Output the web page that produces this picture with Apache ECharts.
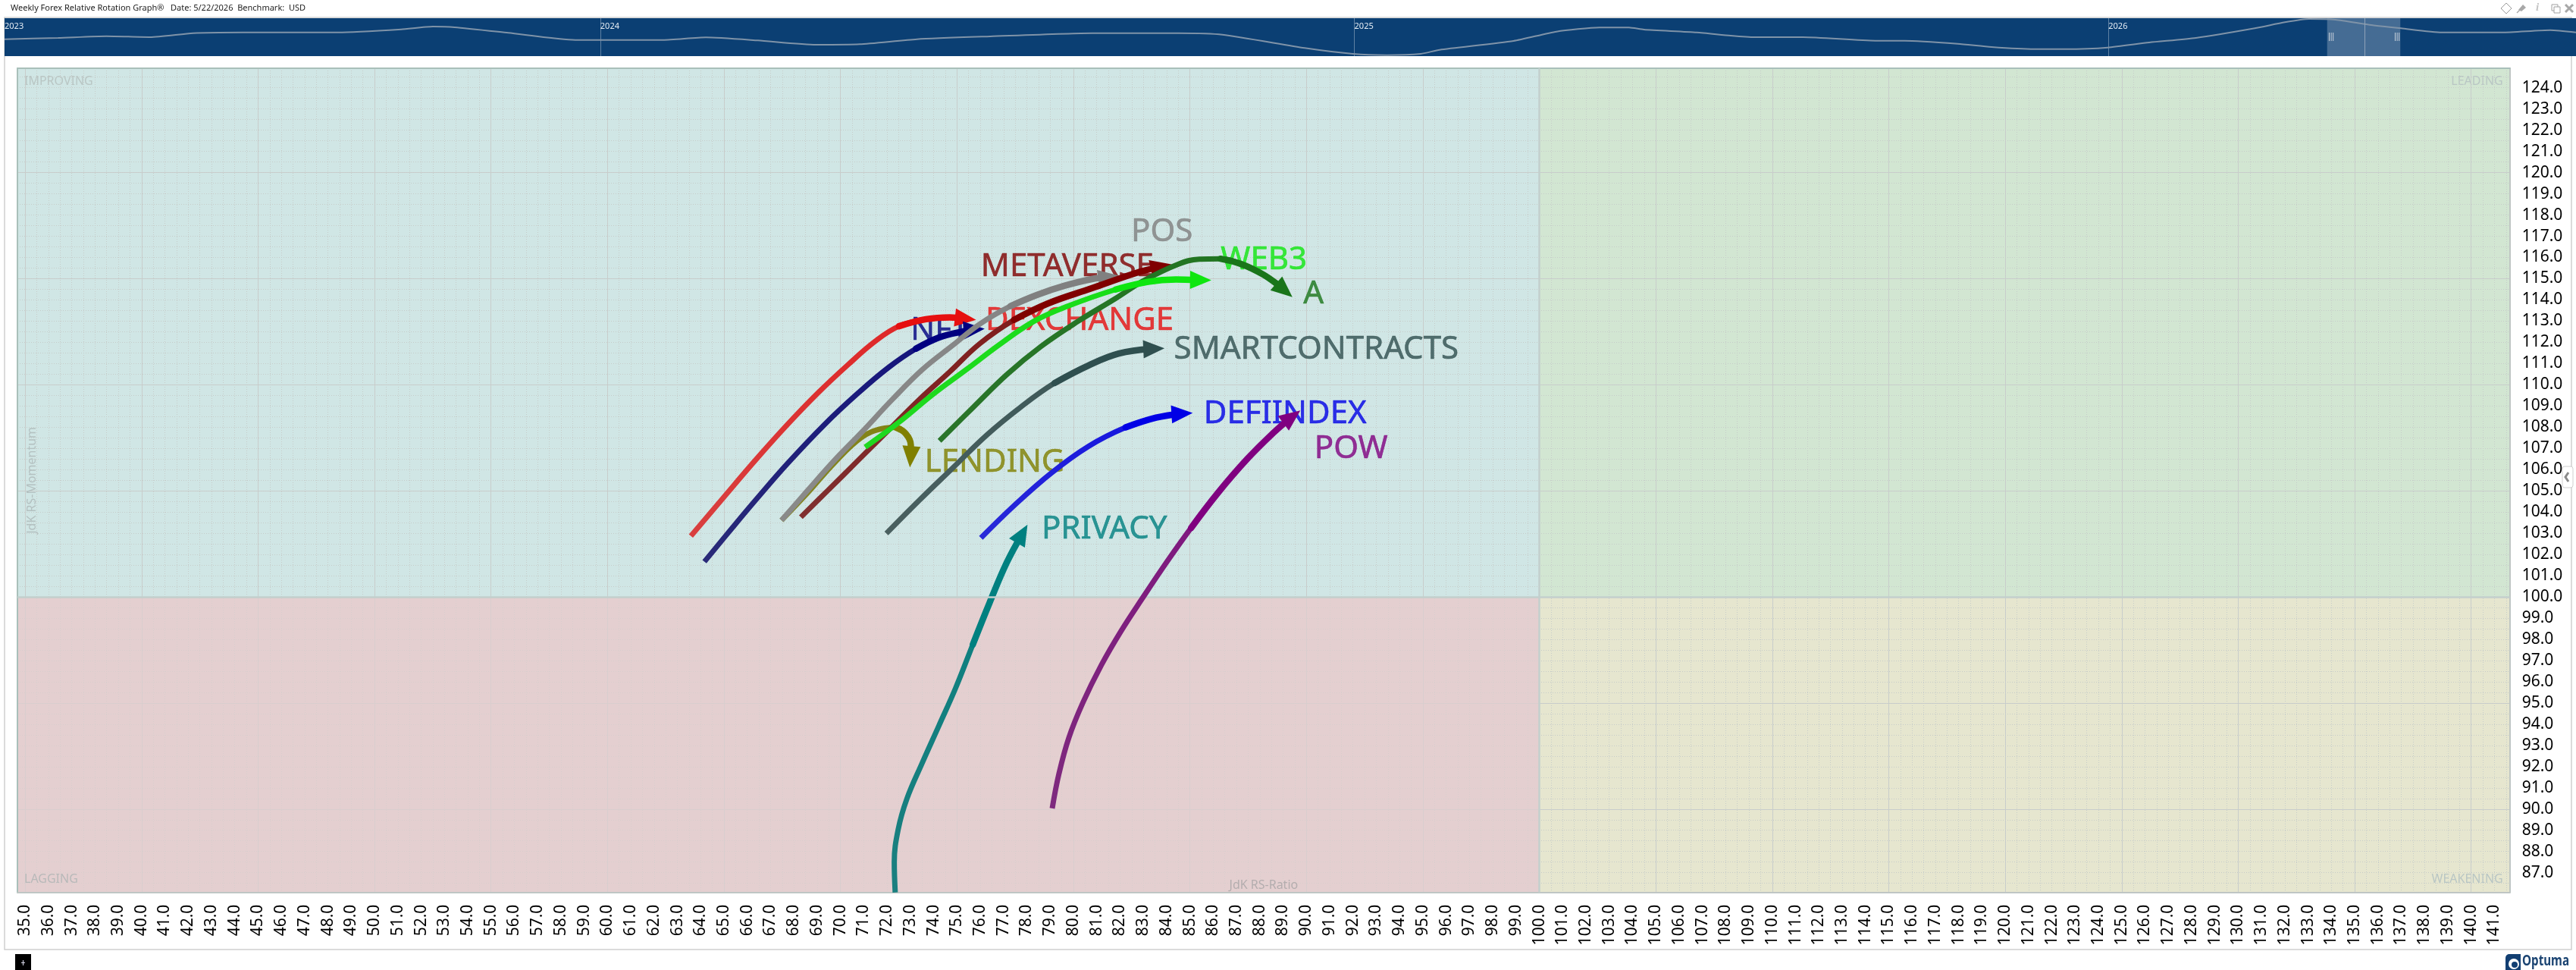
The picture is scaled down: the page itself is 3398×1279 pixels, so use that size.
<!DOCTYPE html>
<html><head><meta charset="utf-8">
<style>html,body{margin:0;padding:0;background:#fff}#c{width:3398px;height:1279px}</style>
<script src="https://cdn.jsdelivr.net/npm/echarts@6/dist/echarts.min.js"></script>
</head><body><div id="c"></div>
<script>
// ---- tick labels
const xTicks=[];for(let v=35;v<=141;v++)xTicks.push(v);
const yTicks=[];for(let v=87;v<=124;v++)yTicks.push(v);
const xMajor=xTicks.filter(v=>v%5===0), yMajor=yTicks.filter(v=>v%5===0);
const xMinor=[];for(let v=35;v<=141.5;v+=0.5)xMinor.push(v);
const yMinor=[];for(let v=86.5;v<=124.5;v+=0.5)yMinor.push(v);
const quadrants=['IMPROVING','LEADING','LAGGING','WEAKENING'];
// ---- tails [RS-Ratio, RS-Momentum], last point is the arrow tip
const DEXCHANGE=[[63.58,102.87],[64.96,104.66],[66.41,106.52],[67.72,108.12],[69.02,109.60],[70.33,110.95],[71.49,112.05],[72.51,112.76],[73.67,113.09],[74.69,113.18],[75.34,113.12],[75.82,113.06]];
const NFT=[[64.16,101.66],[65.39,103.30],[66.41,104.63],[67.72,106.28],[69.31,108.12],[70.77,109.62],[72.07,110.82],[73.24,111.70],[74.25,112.24],[75.27,112.52],[75.71,112.60],[76.19,112.64]];
const LENDING=[[67.47,103.61],[68.59,104.90],[69.75,106.33],[70.91,107.52],[71.78,107.93],[72.37,107.99],[72.80,107.70],[73.02,107.16],[73.02,106.68],[72.98,106.11]];
const POS=[[67.47,103.61],[68.59,105.02],[69.75,106.45],[70.91,107.76],[72.22,109.30],[73.53,110.73],[74.83,111.87],[76.00,112.88],[77.30,113.71],[78.47,114.25],[79.63,114.67],[80.83,114.99],[81.43,115.05],[81.97,115.14]];
const METAVERSE=[[68.30,103.76],[69.46,105.02],[70.77,106.45],[72.07,107.87],[73.38,109.30],[74.69,110.61],[75.97,111.93],[77.45,113.06],[78.90,113.83],[80.79,114.55],[82.66,115.26],[83.57,115.52],[84.21,115.68]];
const WEB3=[[71.06,107.06],[72.51,108.23],[73.96,109.54],[75.42,110.73],[76.87,111.93],[78.32,113.00],[79.77,113.71],[81.81,114.49],[83.20,114.85],[84.40,114.96],[85.29,114.94],[85.92,114.93]];
const A=[[74.25,107.36],[75.71,108.95],[77.16,110.50],[78.61,111.81],[80.21,113.00],[81.81,114.07],[82.97,114.88],[84.49,115.68],[85.40,115.92],[86.31,115.94],[87.23,115.68],[88.14,115.20],[88.83,114.67],[89.06,114.45],[89.40,114.13]];
const SMARTCONTRACTS=[[71.97,102.99],[73.38,104.55],[74.83,106.09],[76.29,107.64],[77.74,108.95],[79.19,110.08],[80.65,110.91],[81.95,111.47],[83.33,111.69],[83.91,111.72]];
const DEFIINDEX=[[76.03,102.78],[77.45,104.30],[79.05,105.84],[80.65,107.10],[82.24,107.99],[83.55,108.45],[84.57,108.63],[85.12,108.67]];
const POW=[[79.09,90.03],[79.38,91.67],[79.80,93.35],[80.40,95.00],[81.20,96.79],[82.05,98.40],[83.00,100.00],[84.03,101.68],[85.05,103.25],[86.20,104.90],[87.46,106.50],[88.60,107.75],[89.33,108.45],[89.74,108.79]];
const PRIVACY=[[72.35,86.07],[72.31,87.50],[72.48,89.05],[72.85,90.48],[73.50,92.15],[74.23,93.94],[74.95,95.72],[75.68,97.75],[76.41,99.75],[77.13,101.60],[77.79,102.95],[78.03,103.41]];
// ---- navigator [year, level]
const navLine=[[2023.21,22.3],[2023.281,24],[2023.345,26.3],[2023.403,25],[2023.46,30.3],[2023.525,31.3],[2023.652,31.3],[2023.736,35.3],[2023.778,39],[2023.807,38],[2023.878,30.7],[2023.967,21.3],[2024.083,21.3],[2024.14,24.7],[2024.209,20.7],[2024.286,15],[2024.344,15.7],[2024.42,22.3],[2024.517,26],[2024.652,30.3],[2024.767,30.3],[2024.825,28.3],[2024.934,10.7],[2024.998,3],[2025.043,1.3],[2025.088,3],[2025.113,8.3],[2025.211,20],[2025.268,32.3],[2025.325,37.7],[2025.364,37.7],[2025.384,35],[2025.454,31.3],[2025.499,27],[2025.531,25],[2025.595,25],[2025.691,20.3],[2025.73,20.3],[2025.8,16.3],[2025.845,12],[2025.902,9.3],[2025.942,9.3],[2025.999,11.3],[2026.054,18],[2026.116,24],[2026.194,36.7],[2026.234,44.7],[2026.266,49],[2026.301,48],[2026.346,41.3],[2026.388,36.7],[2026.442,31.3],[2026.522,31.3],[2026.586,34.3],[2026.62,31.3]];
const navYears=[2024,2025,2026];
const navWindow=[2026.29,2026.338,2026.387];

// ---- styling tables
const seriesDefs=[
 {name:'PRIVACY',pts:PRIVACY,color:'#008080',tail:'#1A7F7F',lab:[19,7]},
 {name:'POW',pts:POW,color:'#800080',tail:'#7E2A7E',lab:[19,51]},
 {name:'DEFIINDEX',pts:DEFIINDEX,color:'#0000E6',tail:'#2A2AD8',lab:[15,2]},
 {name:'SMARTCONTRACTS',pts:SMARTCONTRACTS,color:'#2F4F4F',tail:'#4A6060',lab:[13,2]},
 {name:'DEXCHANGE',pts:DEXCHANGE,color:'#E60F0F',tail:'#D84040',lab:[13,2]},
 {name:'NFT',pts:NFT,color:'#000080',tail:'#2A2A78',lab:[-97,3]},
 {name:'LENDING',pts:LENDING,color:'#808000',tail:'#85852A',lab:[20,-6]},
 {name:'POS',pts:POS,color:'#808080',tail:'#8A8A8A',lab:[16,-57]},
 {name:'METAVERSE',pts:METAVERSE,color:'#800000',tail:'#803030',lab:[-251,4]},
 {name:'A',pts:A,color:'#1A751A',tail:'#2A752A',lab:[15,-3]},
 {name:'WEB3',pts:WEB3,color:'#0FE60F',tail:'#20D820',lab:[13,-26]}
];
const G={l:23,t:90,w:3287.7,h:1086.7}, XR=[34.67,141.66], YR=[86.07,124.92];
const sx=G.w/(XR[1]-XR[0]), sy=G.h/(YR[1]-YR[0]);
const HEAD=[24,28];

const chart=echarts.init(document.getElementById('c'),null,{renderer:'canvas'});
const FONT='"Noto Sans"';
const series=[];
const wm=(name,pos,color)=>({name,label:{show:true,formatter:name,position:pos,color:color||'#B9C6C4',fontFamily:FONT,fontSize:16,distance:0,padding:[9,9,9,9]}});
series.push({type:'line',name:'bg',data:[],z:0,silent:true,xAxisIndex:0,yAxisIndex:0,
 markArea:{silent:true,z:0,data:[
  [{...wm(quadrants[0],'insideTopLeft'),xAxis:XR[0],yAxis:100,itemStyle:{color:'#D0E6E5',opacity:1}},{xAxis:100,yAxis:YR[1]}],
  [{...wm(quadrants[1],'insideTopRight'),xAxis:100,yAxis:100,itemStyle:{color:'#D2E6D2',opacity:1}},{xAxis:XR[1],yAxis:YR[1]}],
  [{xAxis:XR[0],yAxis:YR[0],itemStyle:{color:'#E4CFD0',opacity:1}},{xAxis:100,yAxis:100}],
  [{...wm(quadrants[3],'insideBottomRight'),xAxis:100,yAxis:YR[0],itemStyle:{color:'#E6E6CF',opacity:1}},{xAxis:XR[1],yAxis:100}]
 ]}});
series.push({type:'line',name:'wash',data:[],z:2,silent:true,xAxisIndex:0,yAxisIndex:0,
 markArea:{silent:true,data:[[{...wm(quadrants[2],'insideBottomLeft','#B8B9B9'),xAxis:XR[0],yAxis:YR[0],itemStyle:{color:'rgba(228,207,208,0.6)'}},{xAxis:100,yAxis:100}]]},
 markLine:{silent:true,symbol:'none',label:{show:false},lineStyle:{color:'#C3CFCD',width:2.5,type:'solid'},data:[{xAxis:100},{yAxis:100}]}});
series.push({type:'scatter',name:'labels',z:3,silent:true,symbolSize:1,itemStyle:{color:'rgba(0,0,0,0)'},
 data:seriesDefs.map(d=>({value:d.pts[d.pts.length-1],name:d.name,
   label:{show:true,formatter:d.name,position:d.lab,align:'left',verticalAlign:'middle',color:d.color,textBorderColor:d.color,textBorderWidth:0.6,fontFamily:FONT,fontSize:42}}))});
seriesDefs.forEach((d,i)=>{
 const n=d.pts.length,tip=d.pts[n-1],prev=d.pts[n-2];
 const th=Math.atan2((tip[1]-prev[1])*sy,(tip[0]-prev[0])*sx);
 const line=d.pts.slice(0,-1), mid=echarts.color.lerp(0.6,[d.tail,d.color]);
 const common={type:'line',z:4+i,smooth:0.4,showSymbol:false,symbol:'none',silent:true};
 series.push({...common,name:d.name,data:line,
  lineStyle:{width:7,cap:'butt',color:new echarts.graphic.LinearGradient(0,1,1,0,[{offset:0,color:d.tail},{offset:1,color:mid}])}});
 series.push({...common,name:d.name+' front',data:line.slice(Math.floor(line.length*0.65)),lineStyle:{width:8.5,cap:'round',color:d.color}});
 series.push({type:'scatter',name:d.name+' head',z:4+i,silent:true,symbol:'triangle',symbolSize:HEAD,
  symbolRotate:th*180/Math.PI-90,symbolOffset:[-HEAD[1]/2*Math.cos(th),HEAD[1]/2*Math.sin(th)],
  itemStyle:{color:d.color,opacity:1},data:[tip]});
});
series.push({type:'line',name:'navigator',xAxisIndex:2,yAxisIndex:2,data:navLine,smooth:0.2,showSymbol:false,symbol:'none',silent:true,
 lineStyle:{width:2,color:'#7F93A8'},z:4,
 markArea:{silent:true,itemStyle:{color:'rgba(255,255,255,0.24)'},data:[[{xAxis:navWindow[0]},{xAxis:navWindow[2]}]]},
 markLine:{silent:true,symbol:'none',label:{show:false},lineStyle:{color:'#8FA3B8',width:1,type:'solid'},data:[{xAxis:navWindow[1]}]}});

const base=(extra)=>Object.assign({type:'value',scale:true,splitLine:{show:false},axisTick:{show:false},axisLabel:{show:false},axisLine:{show:false}},extra);
const bar=(x)=>[0,1,2].map(k=>({type:'rect',silent:true,shape:{x:x+k*2.6,y:43,width:1,height:11},style:{fill:'#C8D2DC'},z:20}));
chart.setOption({
 animation:false,backgroundColor:'#fff',
 title:{text:'Weekly Forex Relative Rotation Graph®   Date: 5/22/2026  Benchmark:  USD',left:14,top:5,padding:0,
  textStyle:{fontFamily:FONT,fontSize:11,fontWeight:'normal',color:'#222'}},
 grid:[{left:G.l,top:G.t,width:G.w,height:G.h,containLabel:false,show:false},
       {left:6,top:24,width:3392,height:50,show:true,backgroundColor:'#0B3F73',borderWidth:0}],
 xAxis:[
  base({gridIndex:0,min:XR[0],max:XR[1],position:'bottom',z:1,
   axisLine:{show:true,onZero:false,lineStyle:{color:'#BFC6C4',width:2}},
   axisTick:{show:false,customValues:xMajor},
   splitLine:{show:true,lineStyle:{color:'#C9CDCC',width:1}},
   axisLabel:{show:true,customValues:xTicks,rotate:90,margin:16,padding:[6,0,0,0],color:'#000',fontFamily:FONT,fontSize:21,formatter:v=>v.toFixed(1)}}),
  base({gridIndex:0,min:XR[0],max:XR[1],position:'top',z:1,
   axisLine:{show:true,onZero:false,lineStyle:{color:'#A9C0BA',width:2}},
   axisTick:{show:false,customValues:xMinor},
   splitLine:{show:true,lineStyle:{color:'#C6CCC9',width:1,type:[1,2]}}}),
  base({gridIndex:1,min:navLine[0][0],max:navLine[navLine.length-1][0],position:'top',z:3,
   axisTick:{show:false,customValues:navYears},
   splitLine:{show:true,lineStyle:{color:'#5F81A3',width:1}},
   axisLabel:{show:true,inside:true,customValues:[navLine[0][0],...navYears],align:'left',margin:5,verticalAlign:'top',color:'#E4ECF4',fontFamily:FONT,fontSize:11,
     formatter:v=>String(Math.floor(v))}}),
  base({gridIndex:0,min:XR[0],max:XR[1],position:'bottom',z:1,
   name:'JdK RS-Ratio',nameLocation:'middle',nameGap:-17,nameTextStyle:{color:'#B3ADAE',fontFamily:FONT,fontSize:16}})
 ],
 yAxis:[
  base({gridIndex:0,min:YR[0],max:YR[1],position:'right',z:1,
   axisLine:{show:true,onZero:false,lineStyle:{color:'#BFC6C4',width:2}},
   axisTick:{show:false,customValues:yMajor},
   splitLine:{show:true,lineStyle:{color:'#C9CDCC',width:1}},
   axisLabel:{show:true,customValues:yTicks,margin:16,padding:[6,0,0,0],color:'#000',fontFamily:FONT,fontSize:21,formatter:v=>v.toFixed(1)}}),
  base({gridIndex:0,min:YR[0],max:YR[1],position:'left',z:1,
   name:'JdK RS-Momentum',nameLocation:'middle',nameGap:-27,nameRotate:90,nameTextStyle:{color:'#B4C1C1',fontFamily:FONT,fontSize:16},
   axisLine:{show:true,onZero:false,lineStyle:{color:'#A9C0BA',width:2}},
   axisTick:{show:false,customValues:yMinor},
   splitLine:{show:true,lineStyle:{color:'#C6CCC9',width:1,type:[1,2]}}}),
  base({gridIndex:1,min:0,max:50})
 ],
 series,
 graphic:[
  {type:'rect',silent:true,z:-1,shape:{x:6,y:23,width:3386,height:1229},style:{fill:'#fff',stroke:'#CFCFCF',lineWidth:1.5}},
  ...bar(3072),...bar(3159),
  {type:'rect',silent:true,shape:{x:3380,y:615,width:14,height:28,r:3},style:{fill:'#fff',stroke:'#CFCFCF',lineWidth:1}},
  {type:'polyline',silent:true,shape:{points:[[3388,623],[3384,629],[3388,635]]},style:{stroke:'#8A8A8A',lineWidth:3,fill:null}},
  {type:'polygon',silent:true,shape:{points:[[3306,4],[3313,11],[3306,18],[3299,11]]},style:{fill:'#fff',stroke:'#9A9A9A',lineWidth:1}},
  {type:'polygon',silent:true,shape:{points:[[3322,13],[3328,6],[3332,10],[3326,15]]},style:{fill:'#A8A8A8'}},
  {type:'line',silent:true,shape:{x1:3320,y1:17,x2:3325,y2:12},style:{stroke:'#A8A8A8',lineWidth:1.5}},
  {type:'text',silent:true,style:{text:'i',x:3345,y:3,fill:'#C4C4C4',font:'italic bold 15px "Liberation Serif"'}},
  {type:'rect',silent:true,shape:{x:3366,y:6,width:8,height:8},style:{fill:'none',stroke:'#A0A0A0',lineWidth:1}},
  {type:'rect',silent:true,shape:{x:3369,y:9,width:8,height:8},style:{fill:'#fff',stroke:'#A0A0A0',lineWidth:1}},
  {type:'line',silent:true,shape:{x1:3384,y1:6,x2:3394,y2:16},style:{stroke:'#A8A8A8',lineWidth:3}},
  {type:'line',silent:true,shape:{x1:3394,y1:6,x2:3384,y2:16},style:{stroke:'#A8A8A8',lineWidth:3}},
  {type:'rect',silent:true,shape:{x:20,y:1258,width:21,height:21},style:{fill:'#000'}},
  {type:'rect',silent:true,shape:{x:30,y:1266,width:1,height:7},style:{fill:'#DDE'}},
  {type:'rect',silent:true,shape:{x:28,y:1269,width:5,height:1},style:{fill:'#DDE'}},
  {type:'rect',silent:true,shape:{x:3305,y:1258,width:20,height:21,r:[5,0,0,0]},style:{fill:'#123F72'}},
  {type:'circle',silent:true,shape:{cx:3316,cy:1271,r:7},style:{fill:'#fff'}},
  {type:'circle',silent:true,shape:{cx:3317,cy:1272,r:4},style:{fill:'#123F72'}},
  {type:'text',silent:true,x:3327,y:1258,scaleX:0.8,style:{text:'Optuma',x:0,y:0,fill:'#1B4472',font:'bold 19px "Noto Sans"'}}
 ]
});
</script></body></html>
